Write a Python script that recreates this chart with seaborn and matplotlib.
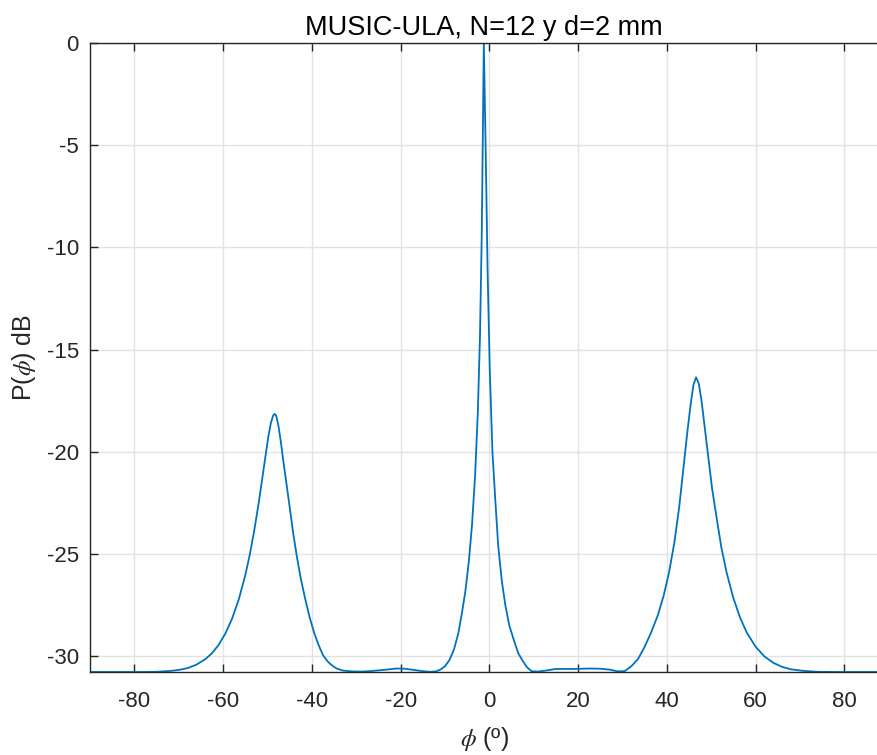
import matplotlib
matplotlib.use("Agg")
import matplotlib.pyplot as plt
import seaborn as sns
import pandas as pd

# Angles (degrees) and MUSIC pseudo-spectrum (dB)
angles = [-90, -86, -82, -78, -75, -72, -70, -68, -66, -64, -62.5, -61, -59.5, -58,
          -56.5, -55, -54, -53, -52, -51.2, -50.5, -49.8, -49.2, -48.7, -48.35, -48,
          -47.5, -47, -46.4, -45.7, -45, -44.2, -43.4, -42.5, -41.5, -40.5, -39.5,
          -38.5, -37.5, -36.5, -35.5, -34.5, -33, -31, -29, -27, -25, -23, -21, -19,
          -17, -15, -13.5, -12, -11, -10, -9, -8, -7, -6.2, -5.4, -4.6, -3.9, -3.2,
          -2.6, -2.1, -1.7, -1.24, -0.8, -0.4, 0.1, 0.7, 1.3, 2, 2.8, 3.6, 4.5, 5.5,
          6.5, 7.5, 8.5, 9.5, 11, 13, 15, 17, 19, 21, 23, 25, 27, 29, 30.5, 32,
          33.5, 35, 36.5, 38, 39.3, 40.5, 41.7, 42.8, 43.8, 44.7, 45.4, 46, 46.6,
          47.2, 47.8, 48.5, 49.3, 50.2, 51.2, 52.3, 53.5, 55, 56.5, 58, 60, 62, 64,
          66, 68, 71, 74, 78, 82, 86, 88]
power_db = [-30.78, -30.78, -30.78, -30.78, -30.77, -30.73, -30.68, -30.59, -30.42,
            -30.15, -29.86, -29.45, -28.90, -28.18, -27.25, -26.04, -25.05, -23.88,
            -22.54, -21.34, -20.26, -19.25, -18.56, -18.22, -18.15, -18.26, -18.77,
            -19.50, -20.50, -21.60, -22.70, -24.00, -25.10, -26.20, -27.20, -28.10,
            -28.85, -29.45, -29.95, -30.25, -30.45, -30.60, -30.71, -30.75, -30.76,
            -30.74, -30.70, -30.66, -30.61, -30.62, -30.68, -30.74, -30.77, -30.75,
            -30.66, -30.50, -30.20, -29.70, -28.90, -27.93, -26.83, -25.34, -23.58,
            -21.14, -18.13, -14.31, -9.29, 0.00, -5.50, -11.00, -16.00, -20.00,
            -22.20, -24.60, -26.30, -27.50, -28.50, -29.20, -29.85, -30.23, -30.55,
            -30.74, -30.76, -30.70, -30.63, -30.63, -30.63, -30.62, -30.61, -30.62,
            -30.66, -30.75, -30.74, -30.50, -30.15, -29.55, -28.83, -27.99, -27.04,
            -25.91, -24.45, -22.70, -20.70, -18.90, -17.65, -16.74, -16.36, -16.66,
            -17.46, -18.71, -20.15, -21.79, -23.20, -24.69, -25.93, -27.16, -28.11,
            -28.84, -29.54, -30.02, -30.33, -30.53, -30.65, -30.73, -30.77, -30.78,
            -30.78, -30.78, -30.78]

x_ticks = [-80, -60, -40, -20, 0, 20, 40, 60, 80]
y_ticks = [-30, -25, -20, -15, -10, -5, 0]
title = "MUSIC-ULA, N=12 y d=2 mm"

df = pd.DataFrame({"angle": angles, "p": power_db})

sns.set_theme(style="white")
plt.rcParams["font.family"] = ["Liberation Sans", "DejaVu Sans"]
plt.rcParams["mathtext.fontset"] = "stix"

fig = plt.figure(figsize=(8.78, 7.55), dpi=100)
ax = fig.add_axes([90 / 878, 83 / 755, 1 - 90 / 878 + 0.0005, 629 / 755])

sns.lineplot(data=df, x="angle", y="p", ax=ax, color="#0072BD",
             linewidth=1.3, estimator=None)

ax.set_xlim(-90, 87.7)
ax.set_ylim(-30.78, 0)
ax.set_xticks(x_ticks)
ax.set_yticks(y_ticks)
ax.set_xticklabels([str(t) for t in x_ticks])
ax.set_yticklabels([str(t) for t in y_ticks])

ax.grid(True, color="#e3e3e3", linewidth=1.0)
ax.set_axisbelow(True)
for side in ["left", "bottom", "top"]:
    ax.spines[side].set_visible(True)
    ax.spines[side].set_color("#262626")
    ax.spines[side].set_linewidth(1.0)
ax.spines["right"].set_visible(False)

ax.tick_params(axis="both", direction="in", length=6, width=1.0,
               colors="#262626", labelsize=16, top=True, bottom=True,
               left=True, right=False, labeltop=False, pad=8)
ax.tick_params(axis="x", pad=14)

ax.set_title(title, fontsize=19.5, color="#000000", pad=6)
ax.set_xlabel(r"$\phi$ (º)", fontsize=18, color="#262626", labelpad=9)
ax.set_ylabel(r"P($\phi$) dB", fontsize=18, color="#262626", labelpad=6)

fig.savefig("out.png", dpi=100)
